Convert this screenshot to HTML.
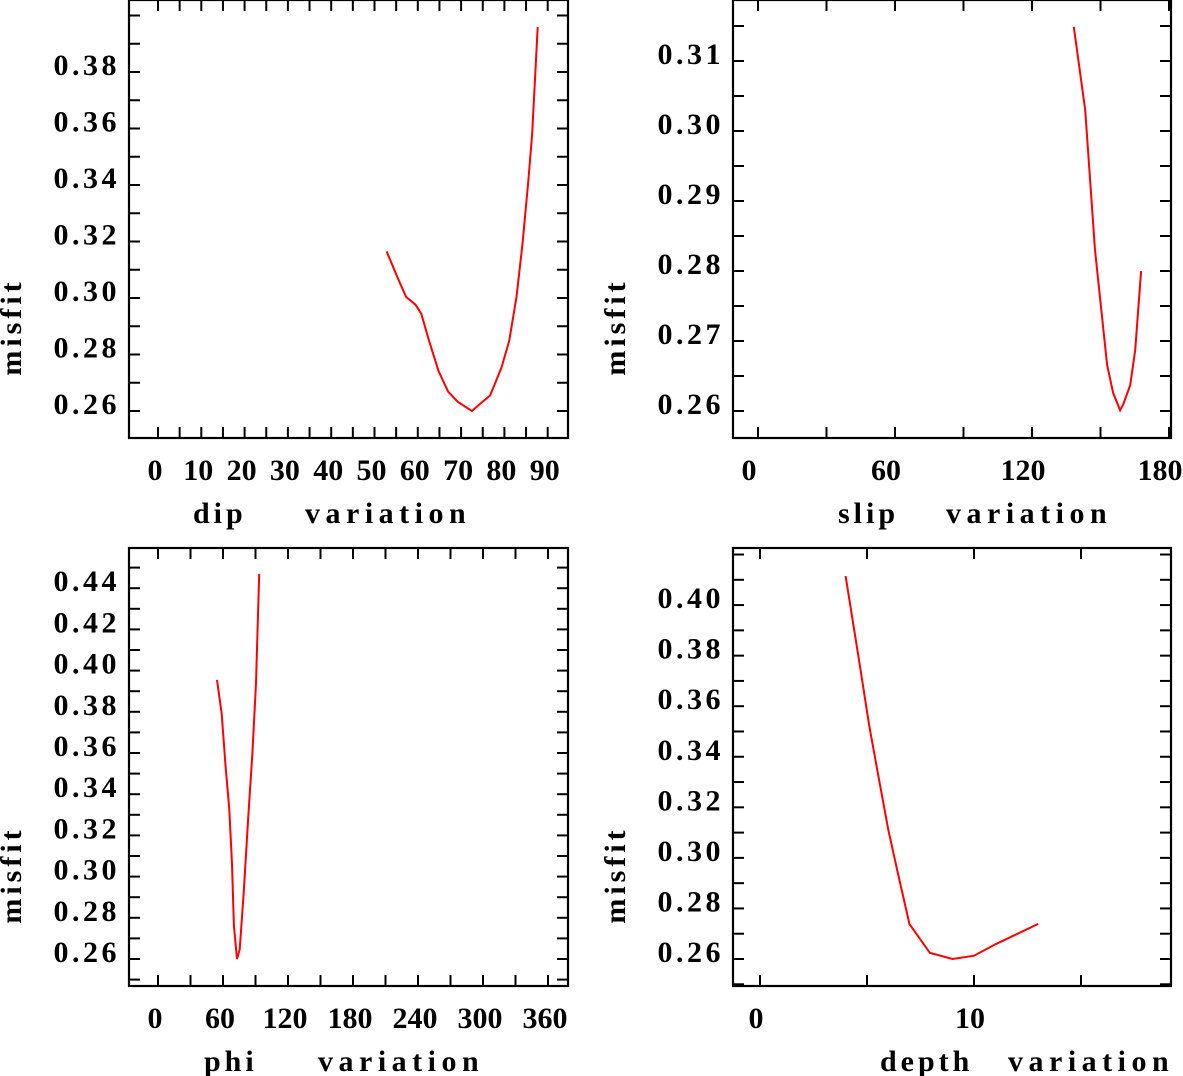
<!DOCTYPE html>
<html><head><meta charset="utf-8"><style>
html,body{margin:0;padding:0;background:#fff;}
svg{display:block;}
text{font-family:"Liberation Serif",serif;font-weight:bold;fill:#000;}
</style></head><body>
<svg id="chart" width="1183" height="1076" viewBox="0 0 1183 1076" xmlns="http://www.w3.org/2000/svg"></svg>
<script>
// dip panel data
const dipX = [52.8,55.6,57.3,59.5,60.8,62.6,64.8,67,69.2,72.5,74.5,76.7,79.3,81.1,82.8,84.2,85.5,86.4,87.7];
const dipY = [0.3165,0.3063,0.3004,0.2976,0.2944,0.2848,0.2741,0.2669,0.2633,0.26,0.2627,0.2655,0.2753,0.2848,0.3004,0.3195,0.341,0.3577,0.3959];
const dipXTicks = [0,10,20,30,40,50,60,70,80,90];
const dipYTicks = [0.26,0.28,0.30,0.32,0.34,0.36,0.38];
// slip panel data
const slipX = [138.3,143.3,147.6,152.9,155.5,158.6,159.9,163,165.2,167.8];
const slipY = [0.3149,0.303,0.283,0.2666,0.2626,0.2601,0.2609,0.2637,0.2687,0.28];
const slipXTicks = [0,60,120,180];
const slipYTicks = [0.26,0.27,0.28,0.29,0.30,0.31];
// phi panel data
const phiX = [54.5,58.8,62.3,65.8,68.3,70.1,72.9,75.4,79.2,83.5,87,90.5,93.4];
const phiY = [0.3955,0.379,0.354,0.3326,0.306,0.2762,0.26,0.2646,0.2928,0.3309,0.359,0.3939,0.447];
const phiXTicks = [0,60,120,180,240,300,360];
const phiYTicks = [0.26,0.28,0.30,0.32,0.34,0.36,0.38,0.40,0.42,0.44];
// depth panel data
const depthX = [4.0,4.7,5.1,5.5,6.0,6.46,6.98,7.94,9.0,10.0,11.0,13.0];
const depthY = [0.4115,0.3742,0.3526,0.3338,0.3109,0.2934,0.2739,0.2624,0.26,0.2613,0.2658,0.2739];
const depthXTicks = [0,10];
const depthYTicks = [0.26,0.28,0.30,0.32,0.34,0.36,0.38,0.40];

const svg = document.getElementById('chart');
const NS = 'http://www.w3.org/2000/svg';
function mk(tag, attrs, parent){
  const e = document.createElementNS(NS, tag);
  for (const k in attrs) e.setAttribute(k, attrs[k]);
  parent.appendChild(e);
  return e;
}
function panel(cfg){
  const g = mk('g', {}, svg);
  
  
  const sx = v => cfg.x0 + v * cfg.xpu;
  const sy = v => cfg.y0 - (v - cfg.ybase) * cfg.ypu;
  const L = cfg.L, R = cfg.R, T = cfg.T, B = cfg.B;
  const frame = mk('rect', {x:L, y:T, width:R-L, height:B-T, fill:'none', stroke:'#000', 'stroke-width':2.2}, g);
  
  
  for (let v = cfg.xMinorStart; v <= cfg.xMax; v += cfg.xMinor) {
    const x = sx(v);
    if (x < L || x > R) continue;
    mk('line', {x1:x, y1:B, x2:x, y2:B-11, stroke:'#000', 'stroke-width':2}, g);
    mk('line', {x1:x, y1:T, x2:x, y2:T+11, stroke:'#000', 'stroke-width':2}, g);
  }
  for (let v = cfg.yMinorStart; v <= cfg.yMax + 1e-9; v += cfg.yMinor) {
    const y = sy(v);
    if (y < T || y > B) continue;
    mk('line', {x1:L, y1:y, x2:L+11, y2:y, stroke:'#000', 'stroke-width':2}, g);
    mk('line', {x1:R, y1:y, x2:R-11, y2:y, stroke:'#000', 'stroke-width':2}, g);
  }
  cfg.xt.forEach(v => {
    const t = mk('text', {x:sx(v)-cfg.xoff, y:B+42, 'text-anchor':'middle', 'font-size':30, 'letter-spacing':0}, g);
    t.textContent = String(v);
    
    
  });
  cfg.yt.forEach(v => {
    const t = mk('text', {x:L-9, y:sy(v)+3, 'text-anchor':'end', 'font-size':30, 'letter-spacing':3.5}, g);
    t.textContent = v.toFixed(2);
    
    
  });
  const yl = mk('text', {x:0, y:0, 'text-anchor':'middle', 'font-size':30, 'letter-spacing':4, transform:`translate(${L-108},${(T+B)/2+108}) rotate(-90)`}, g);
  yl.textContent = 'misfit';
  
  
  const xl1 = mk('text', {x:cfg.t1x, y:B+85, 'font-size':30, 'letter-spacing':4}, g);
  xl1.textContent = cfg.t1;
  
  
  const xl2 = mk('text', {x:cfg.t2x, y:B+85, 'font-size':30, 'letter-spacing':5.5}, g);
  xl2.textContent = 'variation';
  
  
  const pts = cfg.xs.map((v,i) => sx(v).toFixed(1) + ',' + sy(cfg.ys[i]).toFixed(1)).join(' ');
  const line = mk('polyline', {points:pts, fill:'none', stroke:'#f00', 'stroke-width':2}, g);
  
  
}
panel({name:'dip-panel', L:129, R:568, T:0, B:438, x0:158, xpu:4.33, y0:411, ybase:0.26, ypu:2825,
  xMinorStart:0, xMinor:5, xMax:95, yMinorStart:0.25, yMinor:0.01, yMax:0.41, xoff:3,
  xt:dipXTicks, yt:dipYTicks, xs:dipX, ys:dipY, t1:'dip', t1x:193, t2x:305});
panel({name:'slip-panel', L:733, R:1171, T:0, B:438, x0:758, xpu:137/60, y0:411, ybase:0.26, ypu:7000,
  xMinorStart:0, xMinor:30, xMax:190, yMinorStart:0.255, yMinor:0.005, yMax:0.32, xoff:9,
  xt:slipXTicks, yt:slipYTicks, xs:slipX, ys:slipY, t1:'slip', t1x:838, t2x:946});
panel({name:'phi-panel', L:129, R:568, T:548, B:986, x0:158, xpu:65/60, y0:959, ybase:0.26, ypu:2060,
  xMinorStart:0, xMinor:30, xMax:380, yMinorStart:0.25, yMinor:0.01, yMax:0.46, xoff:3,
  xt:phiXTicks, yt:phiYTicks, xs:phiX, ys:phiY, t1:'phi', t1x:204, t2x:318});
panel({name:'depth-panel', L:733, R:1171, T:548, B:986, x0:760, xpu:21.4, y0:959, ybase:0.26, ypu:2528,
  xMinorStart:0, xMinor:5, xMax:20, yMinorStart:0.25, yMinor:0.01, yMax:0.42, xoff:4,
  xt:depthXTicks, yt:depthYTicks, xs:depthX, ys:depthY, t1:'depth', t1x:880, t2x:1008});
</script>
</body></html>
